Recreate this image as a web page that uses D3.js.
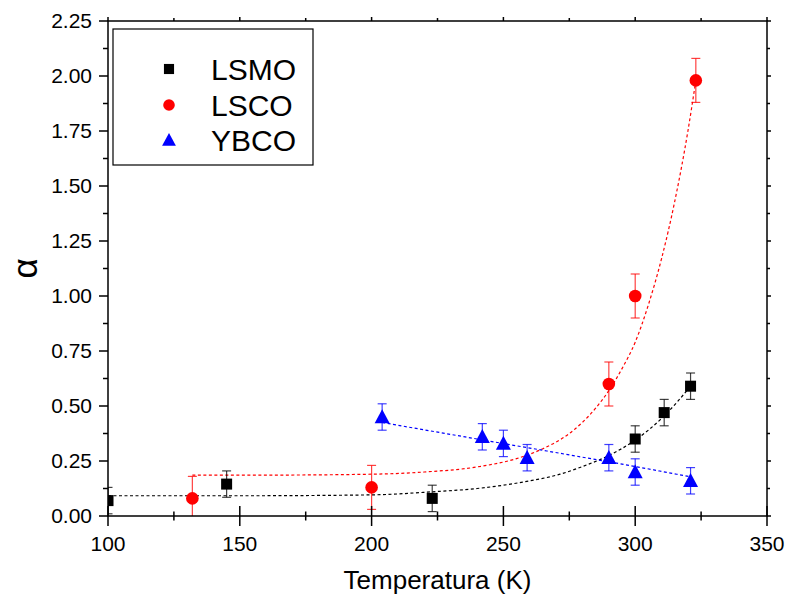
<!DOCTYPE html>
<html><head><meta charset="utf-8">
<script src="https://cdn.jsdelivr.net/npm/d3@7"></script>
<style>body{margin:0;background:#fff}svg{display:block}text{font-family:"Liberation Sans",Arial,sans-serif}</style>
</head><body><svg id="c" width="787" height="598"></svg>
<script>
// ---- data ----
const seriesNames = ["LSMO", "LSCO", "YBCO"];
const seriesColors = ["#000000", "#ff0000", "#0000ff"];
const lsmoT = [100, 145, 223, 300, 311, 321];
const lsmoA = [0.07, 0.145, 0.08, 0.35, 0.47, 0.59];
const lsmoErr = [0.06, 0.06, 0.06, 0.06, 0.06, 0.06];
const lscoT = [132, 200, 290, 300, 323];
const lscoA = [0.08, 0.13, 0.60, 1.00, 1.98];
const lscoErr = [0.10, 0.10, 0.10, 0.10, 0.10];
const ybcoT = [204, 242, 250, 259, 290, 300, 321];
const ybcoA = [0.45, 0.36, 0.33, 0.265, 0.265, 0.20, 0.16];
const ybcoErr = [0.06, 0.06, 0.06, 0.06, 0.06, 0.06, 0.06];
// fitted (dashed) curves
const lsmoFitT = [100, 150, 200, 223, 240, 260, 271.5, 280, 290, 300, 311, 321];
const lsmoFitA = [0.092, 0.092, 0.096, 0.11, 0.125, 0.16, 0.19, 0.225, 0.275, 0.345, 0.455, 0.59];
const lscoFitT = [132, 160, 200, 220, 240, 255, 265, 275, 285, 290, 295, 300, 305, 310, 315, 320, 323];
const lscoFitA = [0.186, 0.186, 0.19, 0.2, 0.223, 0.261, 0.306, 0.375, 0.49, 0.57, 0.67, 0.79, 0.96, 1.17, 1.43, 1.75, 1.98];
const ybcoFitT = [204, 240, 271.5, 300, 321];
const ybcoFitA = [0.425, 0.35, 0.285, 0.225, 0.178];
const xTicks = [100, 150, 200, 250, 300, 350];
const yTicks = [0, 0.25, 0.5, 0.75, 1.0, 1.25, 1.5, 1.75, 2.0, 2.25];
const xLabel = "Temperatura (K)";
const yLabel = "α";

// ---- drawing ----
const svg = d3.select("#c");
const L = 108, R = 767, T = 21, B = 516;
const x = d3.scaleLinear().domain([100, 350]).range([L, R]);
const y = d3.scaleLinear().domain([0, 2.25]).range([B, T]);

svg.append("defs").append("clipPath").attr("id", "clip")
  .append("rect").attr("x", L).attr("y", T).attr("width", R - L).attr("height", B - T);

const plot = svg.append("g").attr("clip-path", "url(#clip)");

const series = [
  {T: lsmoT, A: lsmoA, E: lsmoErr, fT: lsmoFitT, fA: lsmoFitA, sym: "square"},
  {T: lscoT, A: lscoA, E: lscoErr, fT: lscoFitT, fA: lscoFitA, sym: "circle"},
  {T: ybcoT, A: ybcoA, E: ybcoErr, fT: ybcoFitT, fA: ybcoFitA, sym: "triangle"}
];

const line = d3.line().x(d => x(d[0])).y(d => y(d[1])).curve(d3.curveMonotoneX);

series.forEach((s, i) => {
  plot.append("path").datum(d3.zip(s.fT, s.fA))
    .attr("d", line).attr("fill", "none")
    .attr("stroke", seriesColors[i]).attr("stroke-width", 1.2)
    .attr("stroke-dasharray", "3,2.5");
});

function drawMarker(g, sym, cx, cy, color, scale) {
  const k = scale || 1;
  if (sym === "square") {
    const s = 11 * k;
    g.append("rect").attr("x", cx - s / 2).attr("y", cy - s / 2).attr("width", s).attr("height", s).attr("fill", color);
  } else if (sym === "circle") {
    g.append("circle").attr("cx", cx).attr("cy", cy).attr("r", 6.3 * k).attr("fill", color);
  } else {
    const w = 15 * k, h = 14 * k;
    g.append("path").attr("d", `M${cx},${cy - h * 0.55}L${cx + w / 2},${cy + h * 0.45}L${cx - w / 2},${cy + h * 0.45}Z`).attr("fill", color);
  }
}

series.forEach((s, i) => {
  const g = plot.append("g");
  s.T.forEach((t, j) => {
    const cx = x(t), y1 = y(s.A[j] + s.E[j]), y0 = y(s.A[j] - s.E[j]);
    const eg = g.append("g").attr("stroke", seriesColors[i]).attr("stroke-opacity", 0.75).attr("stroke-width", 1.2);
    eg.append("line").attr("x1", cx).attr("x2", cx).attr("y1", y1).attr("y2", y0);
    eg.append("line").attr("x1", cx - 4.5).attr("x2", cx + 4.5).attr("y1", y1).attr("y2", y1);
    eg.append("line").attr("x1", cx - 4.5).attr("x2", cx + 4.5).attr("y1", y0).attr("y2", y0);
  });
  s.T.forEach((t, j) => drawMarker(g, s.sym, x(t), y(s.A[j]), seriesColors[i]));
});

// frame
svg.append("rect").attr("x", L).attr("y", T).attr("width", R - L).attr("height", B - T)
  .attr("fill", "none").attr("stroke", "#000").attr("stroke-width", 1.5);

const ax = svg.append("g").attr("stroke", "#000").attr("stroke-width", 1.5);
// bottom ticks (crossing)
const xMinor = d3.range(125, 350, 50);
xTicks.forEach(t => ax.append("line").attr("x1", x(t)).attr("x2", x(t)).attr("y1", B - 10).attr("y2", B + 10));
xMinor.forEach(t => ax.append("line").attr("x1", x(t)).attr("x2", x(t)).attr("y1", B - 4.5).attr("y2", B + 4.5));
// top ticks (outward)
xTicks.forEach(t => ax.append("line").attr("x1", x(t)).attr("x2", x(t)).attr("y1", T).attr("y2", T - 4));
xMinor.forEach(t => ax.append("line").attr("x1", x(t)).attr("x2", x(t)).attr("y1", T).attr("y2", T - 3));
// left ticks (outward)
const yMinor = d3.range(0.125, 2.25, 0.25);
yTicks.forEach(v => ax.append("line").attr("x1", L - 9).attr("x2", L).attr("y1", y(v)).attr("y2", y(v)));
yMinor.forEach(v => ax.append("line").attr("x1", L - 5).attr("x2", L).attr("y1", y(v)).attr("y2", y(v)));
// right ticks (outward)
yTicks.forEach(v => ax.append("line").attr("x1", R).attr("x2", R + 4).attr("y1", y(v)).attr("y2", y(v)));
yMinor.forEach(v => ax.append("line").attr("x1", R).attr("x2", R + 3).attr("y1", y(v)).attr("y2", y(v)));

// tick labels
svg.append("g").selectAll("text").data(xTicks).join("text")
  .attr("x", d => x(d)).attr("y", 551).attr("text-anchor", "middle")
  .attr("font-size", 21).text(d => d3.format("d")(d));
svg.append("g").selectAll("text").data(yTicks).join("text")
  .attr("x", 92).attr("y", d => y(d)).attr("dy", "0.35em").attr("text-anchor", "end")
  .attr("font-size", 21).text(d => d3.format(".2f")(d));

// axis titles
svg.append("text").attr("x", (L + R) / 2).attr("y", 589).attr("text-anchor", "middle")
  .attr("font-size", 26).text(xLabel);
svg.append("text").attr("transform", `translate(37,${(T + B) / 2}) rotate(-90)`)
  .attr("text-anchor", "middle").attr("font-size", 35).text(yLabel);

// legend
const lg = svg.append("g");
lg.append("rect").attr("x", 113).attr("y", 29).attr("width", 200).attr("height", 136)
  .attr("fill", "#fff").attr("stroke", "#000").attr("stroke-width", 1.2);
const legY = [69, 105, 140];
seriesNames.forEach((n, i) => {
  drawMarker(lg, series[i].sym, 169, legY[i], seriesColors[i], 0.92);
  lg.append("text").attr("x", 211).attr("y", legY[i]).attr("dy", "0.36em")
    .attr("font-size", 30).text(n);
});
</script></body></html>
